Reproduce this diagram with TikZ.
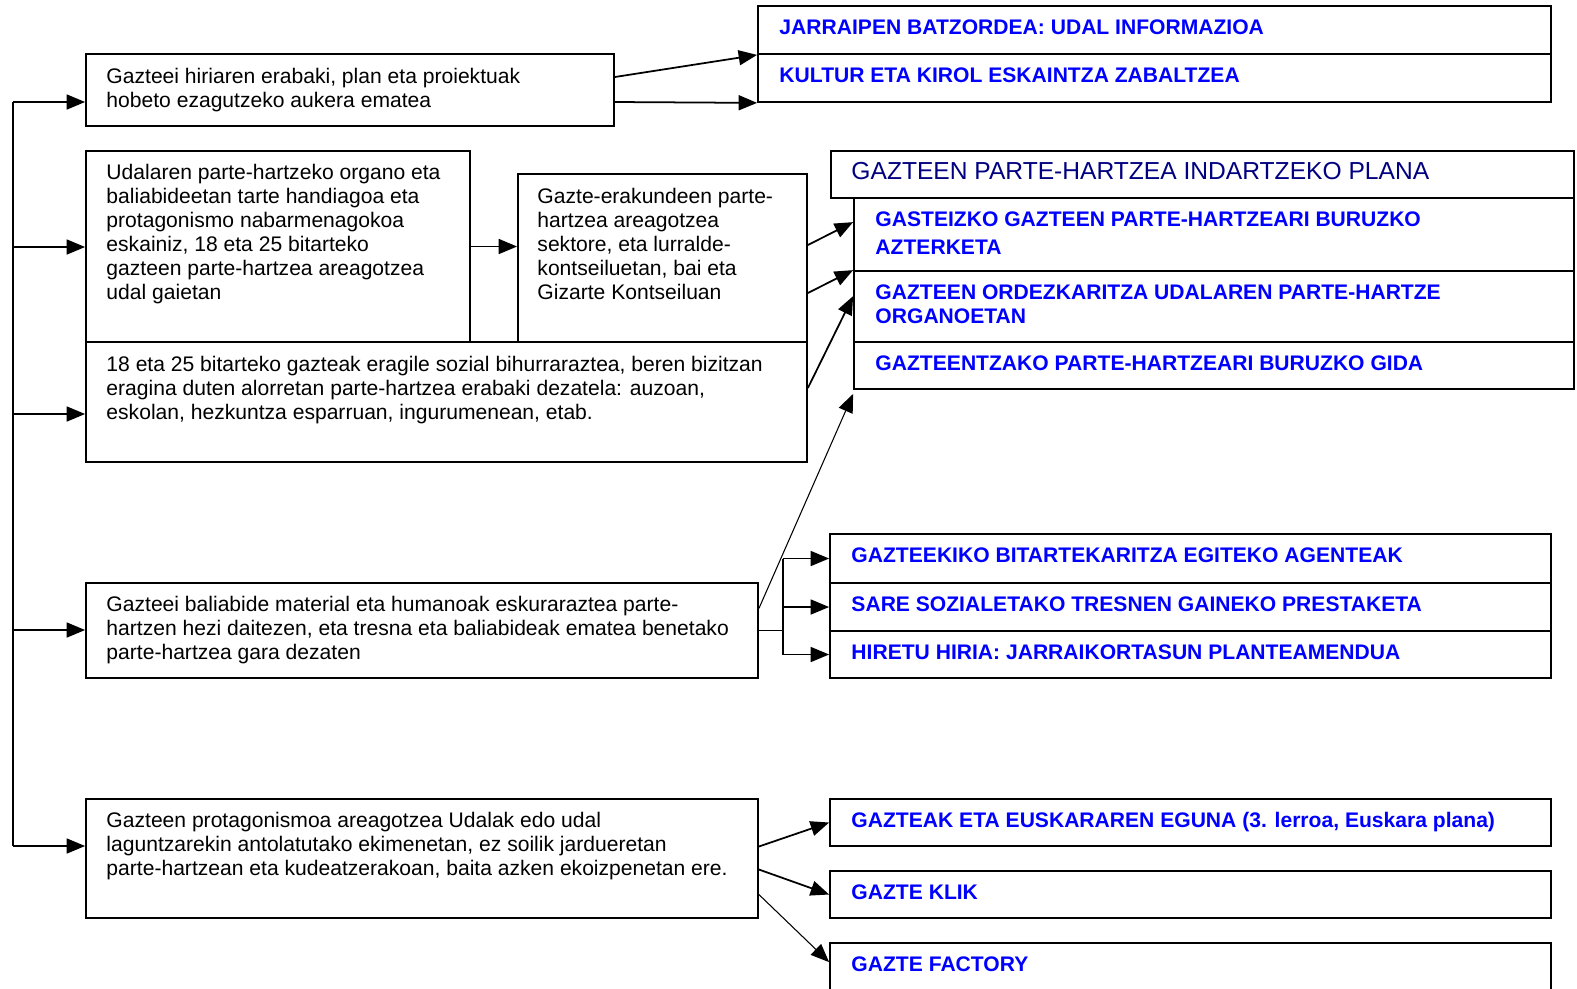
\documentclass[tikz,border=0pt]{standalone}
\usepackage{fontspec}
\setmainfont{Liberation Sans}
\usepackage{xcolor}
\usetikzlibrary{positioning}
\usetikzlibrary{fit}
\usetikzlibrary{arrows.meta}
\definecolor{planblue}{RGB}{0,0,128}

\begin{document}
\begin{tikzpicture}[x=0.02cm, y=0.02cm,
 box/.style={draw, line width=1pt, inner sep=0pt},
 txt/.style={anchor=north west, inner sep=0pt, align=left, font=\fontsize{12}{13.6}\selectfont},
 goal/.style={txt, text=blue, font=\fontsize{12}{13.6}\selectfont\bfseries},
 arr/.style={-{Triangle[length=10.5pt,width=8.5pt]}, line width=1pt},
 thinarr/.style={arr, line width=0.6pt}]

\useasboundingbox (0,0) rectangle (1577,-988);
\clip (0,0) rectangle (1577,-988);

% objectives (left column)
\node[box, fit={(86,-54) (614,-126)}] (obj1) {};
\node[box, fit={(86,-151) (470,-342)}] (obj2) {};
\node[box, fit={(518,-174) (807,-342)}] (obj3) {};
\node[box, fit={(86,-342) (807,-462)}] (obj4) {};
\node[box, fit={(86,-583) (758,-678)}] (obj5) {};
\node[box, fit={(86,-799) (758,-918)}] (obj6) {};

\node[txt] (obj1txt) at ([shift={(21,-15)}]obj1.north west) {Gazteei hiriaren erabaki, plan eta proiektuak\\hobeto ezagutzeko aukera ematea};
\node[txt] (obj2txt) at ([shift={(21,-14)}]obj2.north west) {Udalaren parte-hartzeko organo eta\\baliabideetan tarte handiagoa eta\\protagonismo nabarmenagokoa\\eskainiz, 18 eta 25 bitarteko\\gazteen parte-hartzea areagotzea\\udal gaietan};
\node[txt] (obj3txt) at ([shift={(20,-15)}]obj3.north west) {Gazte-erakundeen parte-\\hartzea areagotzea\\sektore, eta lurralde-\\kontseiluetan, bai eta\\Gizarte Kontseiluan};
\node[txt] (obj4txt) at ([shift={(21,-15)}]obj4.north west) {18 eta 25 bitarteko gazteak eragile sozial bihurraraztea, beren bizitzan\\eragina duten alorretan parte-hartzea erabaki dezatela: auzoan,\\eskolan, hezkuntza esparruan, ingurumenean, etab.};
\node[txt] (obj5txt) at ([shift={(21,-14)}]obj5.north west) {Gazteei baliabide material eta humanoak eskuraraztea parte-\\hartzen hezi daitezen, eta tresna eta baliabideak ematea benetako\\parte-hartzea gara dezaten};
\node[txt] (obj6txt) at ([shift={(21,-14)}]obj6.north west) {Gazteen protagonismoa areagotzea Udalak edo udal\\laguntzarekin antolatutako ekimenetan, ez soilik jardueretan\\parte-hartzean eta kudeatzerakoan, baita azken ekoizpenetan ere.};

% actions (right column)
\node[box, fit={(758,-6) (1551,-54)}] (act1) {};
\node[box, fit={(758,-54) (1551,-102)}] (act2) {};
\node[goal] (act1txt) at ([shift={(22,-14)}]act1.north west) {JARRAIPEN BATZORDEA: UDAL INFORMAZIOA};
\node[goal] (act2txt) at ([shift={(22,-14)}]act2.north west) {KULTUR ETA KIROL ESKAINTZA ZABALTZEA};

\node[box, fit={(831,-151) (1574,-198)}] (plan) {};
\node[box, fit={(854,-198) (1574,-271)}] (plan1) {};
\node[box, fit={(854,-271) (1574,-342)}] (plan2) {};
\node[box, fit={(854,-342) (1574,-389)}] (plan3) {};
\node[txt, text=planblue, font=\fontsize{14}{16}\selectfont] (plantxt) at ([shift={(21,-12)}]plan.north west) {GAZTEEN PARTE-HARTZEA INDARTZEKO PLANA};
\node[goal] (plan1txt) at ([shift={(22,-14)}]plan1.north west) {GASTEIZKO GAZTEEN PARTE-HARTZEARI BURUZKO\\[2.3pt]AZTERKETA};
\node[goal] (plan2txt) at ([shift={(22,-14)}]plan2.north west) {GAZTEEN ORDEZKARITZA UDALAREN PARTE-HARTZE\\ORGANOETAN};
\node[goal] (plan3txt) at ([shift={(22,-14)}]plan3.north west) {GAZTEENTZAKO PARTE-HARTZEARI BURUZKO GIDA};

\node[box, fit={(830,-534) (1551,-583)}] (tool1) {};
\node[box, fit={(830,-583) (1551,-631)}] (tool2) {};
\node[box, fit={(830,-631) (1551,-678)}] (tool3) {};
\node[goal] (tool1txt) at ([shift={(22,-14)}]tool1.north west) {GAZTEEKIKO BITARTEKARITZA EGITEKO AGENTEAK};
\node[goal] (tool2txt) at ([shift={(22,-14)}]tool2.north west) {SARE SOZIALETAKO TRESNEN GAINEKO PRESTAKETA};
\node[goal] (tool3txt) at ([shift={(22,-14)}]tool3.north west) {HIRETU HIRIA: JARRAIKORTASUN PLANTEAMENDUA};

\node[box, fit={(830,-799) (1551,-846)}] (event1) {};
\node[box, fit={(830,-871) (1551,-918)}] (event2) {};
\node[box, fit={(830,-943) (1551,-1010)}] (event3) {};
\node[goal] (event1txt) at ([shift={(22,-14)}]event1.north west) {GAZTEAK ETA EUSKARAREN EGUNA (3. lerroa, Euskara plana)};
\node[goal] (event2txt) at ([shift={(22,-14)}]event2.north west) {GAZTE KLIK};
\node[goal] (event3txt) at ([shift={(22,-14)}]event3.north west) {GAZTE FACTORY};

% left bus
\coordinate (bus1) at (13,-102);
\coordinate (bus2) at (13,-247);
\coordinate (bus3) at (13,-414);
\coordinate (bus4) at (13,-630);
\coordinate (bus5) at (13,-846);
\draw[line width=1pt] (bus1) -- (bus5);
\draw[arr] (bus1) -- (bus1 -| obj1.west);
\draw[arr] (bus2) -- (bus2 -| obj2.west);
\draw[arr] (bus3) -- (bus3 -| obj4.west);
\draw[arr] (bus4) -- (bus4 -| obj5.west);
\draw[arr] (bus5) -- (bus5 -| obj6.west);

% links to the actions
\draw[arr] ([shift={(0,13)}]obj1.east) -- (act1.south west);
\draw[arr] ([shift={(0,-12)}]obj1.east) -- (act2.south west);
\draw[arr] (obj2.east) -- (obj2.east -| obj3.west);
\draw[arr] ([shift={(0,13)}]obj3.east) -- ([shift={(0,-25)}]plan1.north west);
\draw[arr] ([shift={(0,-35)}]obj3.east) -- (plan2.north west);
\draw[arr] ([shift={(0,14)}]obj4.east) -- ([shift={(0,-26)}]plan2.north west);
\draw[thinarr] ([shift={(0,22)}]obj5.east) -- ([shift={(0,-4)}]plan3.south west);

\coordinate (split) at ([shift={(24,0)}]obj5.east);
\draw[line width=1pt] (obj5.east) -- (split);
\draw[line width=1pt] (split |- tool1.west) -- (split |- tool3.west);
\draw[arr] (split |- tool1.west) -- (tool1.west);
\draw[arr] (split |- tool2.west) -- (tool2.west);
\draw[arr] (split |- tool3.west) -- (tool3.west);

\draw[arr] ([shift={(0,12)}]obj6.east) -- (event1.west);
\draw[arr] ([shift={(0,-11)}]obj6.east) -- (event2.west);
\draw[thinarr] ([shift={(0,-36)}]obj6.east) -- ([shift={(0,-20)}]event3.north west);

\end{tikzpicture}
\end{document}
